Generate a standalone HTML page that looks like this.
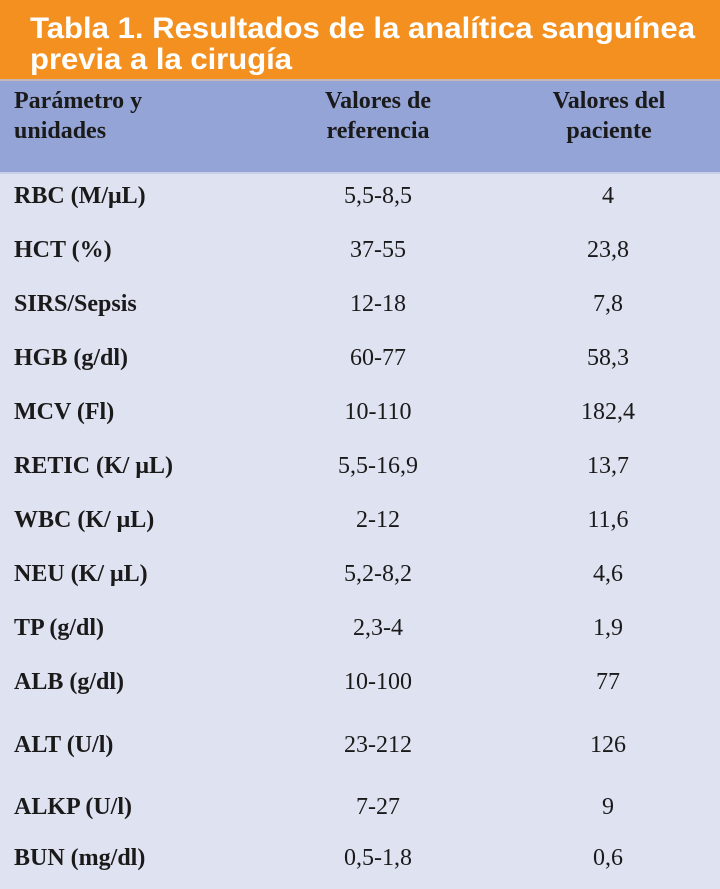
<!DOCTYPE html>
<html><head><meta charset="utf-8"><style>
html,body{margin:0;padding:0;width:720px;height:889px;overflow:hidden;background:#dfe2f0}
svg{display:block}
.s{font-family:"Liberation Serif",serif;font-size:24px;fill:#1a1a1a}
.b{font-weight:bold}
</style></head><body>
<svg width="720" height="889" xmlns="http://www.w3.org/2000/svg">
<rect x="0" y="0" width="720" height="889" fill="#dfe2f0"/>
<rect x="0" y="0" width="720" height="79" fill="#f39020"/>
<rect x="0" y="79" width="720" height="93" fill="#95a4d6"/>
<rect x="0" y="79" width="720" height="2" fill="#f7c89a" opacity="0.5"/>
<rect x="0" y="172" width="720" height="2" fill="#c9cfe8"/>
<g font-family="Liberation Sans, sans-serif" font-weight="bold" font-size="30" fill="#fff">
<text x="30" y="38" textLength="665" lengthAdjust="spacingAndGlyphs">Tabla 1. Resultados de la analítica sanguínea</text>
<text x="30" y="69" textLength="262" lengthAdjust="spacingAndGlyphs">previa a la cirugía</text>
</g>
<g class="s b">
<text x="14" y="108">Parámetro y</text>
<text x="14" y="138">unidades</text>
<text x="378" y="108" text-anchor="middle">Valores de</text>
<text x="378" y="138" text-anchor="middle">referencia</text>
<text x="609" y="108" text-anchor="middle">Valores del</text>
<text x="609" y="138" text-anchor="middle">paciente</text>
</g>
<g class="s">
<g class="b">
<text x="14" y="203">RBC (M/μL)</text>
<text x="14" y="257">HCT (%)</text>
<text x="14" y="311">SIRS/Sepsis</text>
<text x="14" y="365">HGB (g/dl)</text>
<text x="14" y="419">MCV (Fl)</text>
<text x="14" y="473">RETIC (K/ μL)</text>
<text x="14" y="527">WBC (K/ μL)</text>
<text x="14" y="581">NEU (K/ μL)</text>
<text x="14" y="635">TP (g/dl)</text>
<text x="14" y="689">ALB (g/dl)</text>
<text x="14" y="752">ALT (U/l)</text>
<text x="14" y="814">ALKP (U/l)</text>
<text x="14" y="865">BUN (mg/dl)</text>
</g>
<g text-anchor="middle">
<text x="378" y="203">5,5-8,5</text><text x="608" y="203">4</text>
<text x="378" y="257">37-55</text><text x="608" y="257">23,8</text>
<text x="378" y="311">12-18</text><text x="608" y="311">7,8</text>
<text x="378" y="365">60-77</text><text x="608" y="365">58,3</text>
<text x="378" y="419">10-110</text><text x="608" y="419">182,4</text>
<text x="378" y="473">5,5-16,9</text><text x="608" y="473">13,7</text>
<text x="378" y="527">2-12</text><text x="608" y="527">11,6</text>
<text x="378" y="581">5,2-8,2</text><text x="608" y="581">4,6</text>
<text x="378" y="635">2,3-4</text><text x="608" y="635">1,9</text>
<text x="378" y="689">10-100</text><text x="608" y="689">77</text>
<text x="378" y="752">23-212</text><text x="608" y="752">126</text>
<text x="378" y="814">7-27</text><text x="608" y="814">9</text>
<text x="378" y="865">0,5-1,8</text><text x="608" y="865">0,6</text>
</g>
</g>
</svg>
</body></html>
